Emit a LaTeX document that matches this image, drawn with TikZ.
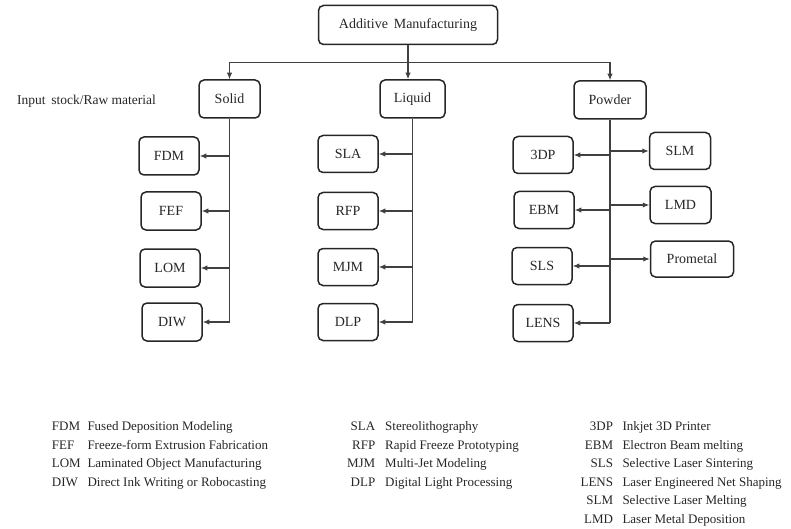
\documentclass[tikz,border=0pt]{standalone}
\usepackage{fontspec}
\setmainfont{Liberation Serif}
\usetikzlibrary{arrows.meta}
\begin{document}
\begin{tikzpicture}[x=1pt,y=-1pt,
  box/.style={draw=black!85,line width=1.5pt,rounded corners=5pt,inner sep=0pt,
    font=\fontsize{14}{16}\selectfont,text=black!85},
  conn/.style={draw=black!75,line width=1.2pt},
  arr/.style={conn,-{Latex[length=6.5pt,width=5.5pt]}},
  leg/.style={font=\fontsize{13}{15}\selectfont,text=black!85,inner sep=0pt}]
\useasboundingbox (0,0) rectangle (791,529);
% top
\node[box,minimum width=179pt,minimum height=39pt] (am) at (408,25) {Additive\, Manufacturing};
\node[box,minimum width=61pt,minimum height=38pt] (solid) at (229.5,99) {Solid};
\node[box,minimum width=65pt,minimum height=38pt] (liquid) at (412.5,99) {Liquid};
\node[box,minimum width=72pt,minimum height=38pt] (powder) at (610,100) {Powder};
\node[leg,anchor=base west,font=\fontsize{13.5}{15}\selectfont] (input) at (17,104.3) {Input\, stock/Raw material};
\coordinate (bus) at (0,62.5);
\draw[conn] (am.south) -- (am.south |- bus);
\draw[conn] (solid.north |- bus) -- (powder.north |- bus);
\draw[arr] (solid.north |- bus) -- (solid.north);
\draw[arr] (am.south |- bus) -- (am.south |- liquid.north);
\draw[arr] (powder.north |- bus) -- (powder.north);
% solid children
\node[box,minimum width=60pt,minimum height=38pt] (fdm) at (169,156) {FDM};
\node[box,minimum width=60pt,minimum height=38pt] (fef) at (171,211) {FEF};
\node[box,minimum width=60pt,minimum height=38pt] (lom) at (170,268) {LOM};
\node[box,minimum width=60pt,minimum height=38pt] (diw) at (172,322) {DIW};
\draw[conn] (solid.south) -- (solid.south |- diw.east);
\foreach \n in {fdm,fef,lom,diw}{\draw[arr] (solid.south |- \n.east) -- (\n.east);}
% liquid children
\node[box,minimum width=60pt,minimum height=37pt] (sla) at (348,154) {SLA};
\node[box,minimum width=60pt,minimum height=37pt] (rfp) at (348,211) {RFP};
\node[box,minimum width=60pt,minimum height=37pt] (mjm) at (348,267) {MJM};
\node[box,minimum width=60pt,minimum height=37pt] (dlp) at (348,322) {DLP};
\draw[conn] (liquid.south) -- (liquid.south |- dlp.east);
\foreach \n in {sla,rfp,mjm,dlp}{\draw[arr] (liquid.south |- \n.east) -- (\n.east);}
% powder children
\node[box,minimum width=60pt,minimum height=37pt] (tdp) at (543,155) {3DP};
\node[box,minimum width=60pt,minimum height=37pt] (ebm) at (544,210) {EBM};
\node[box,minimum width=60pt,minimum height=37pt] (sls) at (542,266) {SLS};
\node[box,minimum width=60pt,minimum height=37pt] (lens) at (543,323) {LENS};
\node[box,minimum width=61pt,minimum height=37pt] (slm) at (680,151) {SLM};
\node[box,minimum width=61pt,minimum height=37pt] (lmd) at (680.5,205) {LMD};
\node[box,minimum width=83pt,minimum height=36pt] (prometal) at (692,259) {Prometal};
\draw[conn] (powder.south) -- (powder.south |- lens.east);
\foreach \n in {tdp,ebm,sls,lens}{\draw[arr] (powder.south |- \n.east) -- (\n.east);}
\foreach \n in {slm,lmd,prometal}{\draw[arr] (powder.south |- \n.west) -- (\n.west);}
% legend column 1
\foreach \a/\d/\y [count=\i] in {FDM/Fused Deposition Modeling/430.7,FEF/Freeze-form Extrusion Fabrication/449.2,LOM/Laminated Object Manufacturing/467.7,DIW/Direct Ink Writing or Robocasting/486.2}{
  \node[leg,anchor=base west] (la\i) at (51.7,\y) {\a};
  \node[leg,anchor=base west] (ld\i) at (87.3,\y) {\d};
}
% legend column 2
\foreach \a/\d/\y [count=\i] in {SLA/Stereolithography/430.7,RFP/Rapid Freeze Prototyping/449.2,MJM/Multi-Jet Modeling/467.7,DLP/Digital Light Processing/486.2}{
  \node[leg,anchor=base east] (lb\i) at (375.5,\y) {\a};
  \node[leg,anchor=base west] (le\i) at (385,\y) {\d};
}
% legend column 3
\foreach \a/\d/\y [count=\i] in {3DP/Inkjet 3D Printer/430.7,EBM/Electron Beam melting/449.2,SLS/Selective Laser Sintering/467.7,LENS/Laser Engineered Net Shaping/486.2,SLM/Selective Laser Melting/504.7,LMD/Laser Metal Deposition/523.2}{
  \node[leg,anchor=base east] (lc\i) at (613.3,\y) {\a};
  \node[leg,anchor=base west] (lf\i) at (622.3,\y) {\d};
}
\end{tikzpicture}
\end{document}
